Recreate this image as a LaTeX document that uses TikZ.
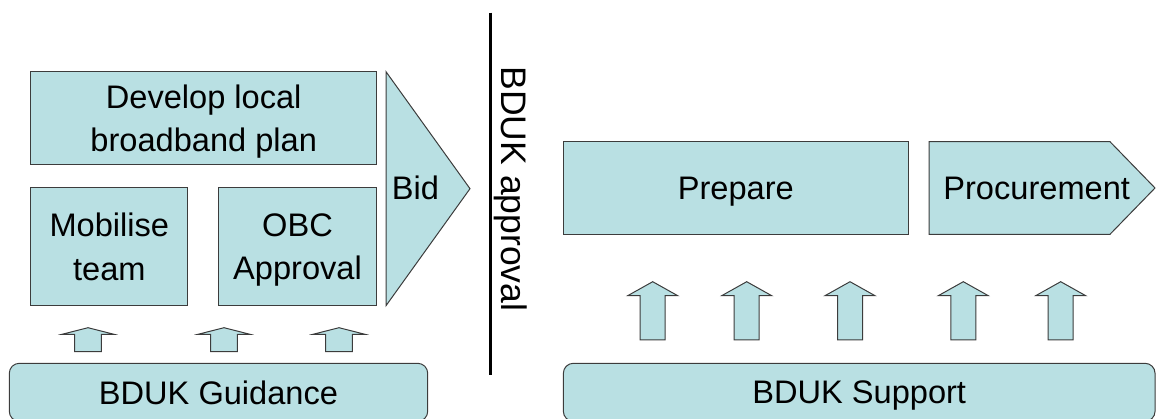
\documentclass[tikz,border=0pt]{standalone}
\usepackage{fontspec}
\setmainfont{Liberation Sans}
\definecolor{boxfill}{RGB}{185,224,227}
\definecolor{boxline}{RGB}{60,60,60}
\tikzset{
    blk/.style={draw=boxline, fill=boxfill, line width=1pt, line join=miter},
    lbl/.style={inner sep=0pt, text depth=0pt, align=center, font=\fontsize{32.6}{43.5}\selectfont},
    box/.style={blk, lbl, rectangle},
    base/.style={box, rounded corners=10pt}
}

\begin{document}
\begin{tikzpicture}[x=1pt, y=-1pt]
        \useasboundingbox (0,0) rectangle (1157,419);
        % left half
        \node[box, minimum width=346pt, minimum height=93.3pt] (plan) at (203.7,118.3) {Develop local\\broadband plan};
        \node[box, minimum width=157.3pt, minimum height=118.4pt] (team) at (109.3,246.5) {Mobilise\\team};
        \node[box, minimum width=158.4pt, minimum height=118.4pt] (obc) at (297.5,246.5) {OBC\\Approval};
        \draw[blk] (386,71.7) -- (470,188.7) -- (386,305.7) -- cycle;
        \node[lbl] (bid) at (415.5,188) {Bid};
        \node[base, minimum width=418.4pt, minimum height=58pt] (guide) at (218.5,392.3) {BDUK Guidance};
        \foreach \cx in {88,224,339}
                \draw[blk] (\cx,327.7) -- (\cx+26,334.3) -- (\cx+13.3,334.3) -- (\cx+13.3,351.7)
                        -- (\cx-13.3,351.7) -- (\cx-13.3,334.3) -- (\cx-26,334.3) -- cycle;
        % divider
        \coordinate (dtop) at (490.7,12.7);
        \coordinate (dbot) at (490.7,375);
        \draw[line width=3pt] (dtop) -- (dbot);
        \node[lbl, rotate=-90, font=\fontsize{35.5}{43}\selectfont] (appr) at (514,189) {BDUK approval};
        % right half
        \node[box, minimum width=345pt, minimum height=92.6pt] (prep) at (735.8,188) {Prepare};
        \draw[blk] (929,141.7) -- (1110,141.7) -- (1155,188) -- (1110,234.3) -- (929,234.3) -- cycle;
        \node[lbl] (proc) at (1036.7,188.5) {Procurement};
        \node[base, minimum width=591.7pt, minimum height=58pt] (supp) at (859.2,392.3) {BDUK Support};
        \foreach \cx in {652.7,746.7,850,963.3,1060.7}
                \draw[blk] (\cx,281.7) -- (\cx+25,295.7) -- (\cx+12.5,295.7) -- (\cx+12.5,340)
                        -- (\cx-12.5,340) -- (\cx-12.5,295.7) -- (\cx-25,295.7) -- cycle;
\end{tikzpicture}
\end{document}
